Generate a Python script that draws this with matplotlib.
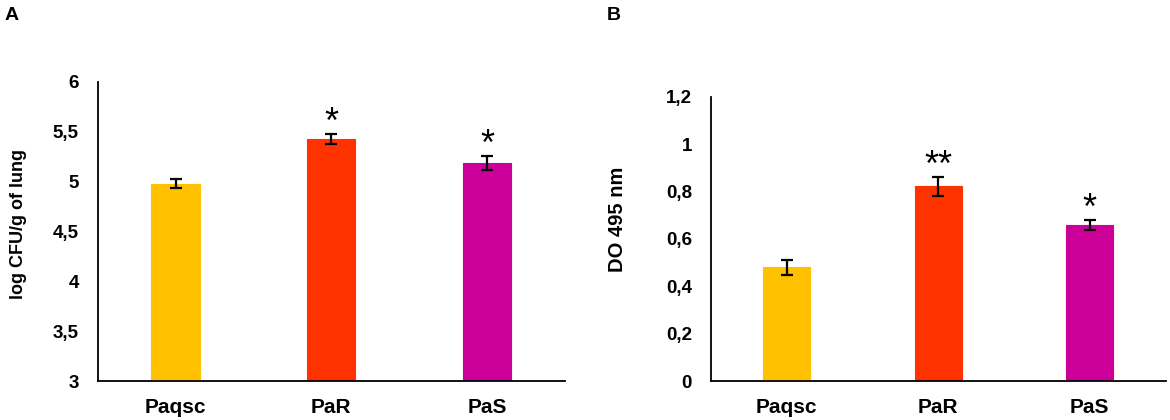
import matplotlib
matplotlib.use("Agg")
import matplotlib.pyplot as plt
from matplotlib.ticker import FuncFormatter

plt.rcParams['font.family'] = ['Liberation Sans', 'DejaVu Sans']
plt.rcParams['font.weight'] = 'bold'

categories = ["Paqsc", "PaR", "PaS"]
colors = ["#FFC000", "#FF3300", "#CC0099"]

cfu_values = [4.98, 5.43, 5.19]
cfu_errors = [0.045, 0.053, 0.072]
cfu_stars = ["", "*", "*"]
cfu_ticks = [3, 3.5, 4, 4.5, 5, 5.5, 6]

do_values = [0.48, 0.822, 0.66]
do_errors = [0.033, 0.041, 0.022]
do_stars = ["", "**", "*"]
do_ticks = [0, 0.2, 0.4, 0.6, 0.8, 1.0, 1.2]

fig = plt.figure(figsize=(11.7, 4.2), dpi=100)
axA = fig.add_axes([97.7/1170, 1-381/420, (565-97.7)/1170, (381-82)/420])
axB = fig.add_axes([710.7/1170, 1-381/420, (1165.7-710.7)/1170, (381-97)/420])

def comma_fmt(v, pos):
    s = ('%g' % round(v, 3))
    return s.replace('.', ',')

def draw(ax, vals, errs, stars, ticks, ylabel, ylabel_size, panel, px):
    x = list(range(len(categories)))
    ax.bar(x, vals, width=0.31, color=colors, edgecolor=colors, linewidth=0.8, zorder=2)
    ax.errorbar(x, vals, yerr=errs, fmt='none', ecolor='black', elinewidth=1.6,
                capsize=4, capthick=1.6, zorder=3)
    ax.set_xlim(-0.5, 2.5)
    ax.set_ylim(ticks[0], ticks[-1])
    ax.set_yticks(ticks)
    ax.yaxis.set_major_formatter(FuncFormatter(comma_fmt))
    ax.set_xticks(x)
    ax.set_xticklabels(categories, fontsize=15, fontweight='bold')
    ax.tick_params(axis='y', length=0, pad=13.5, labelsize=13.5)
    ax.tick_params(axis='x', length=0, pad=12)
    for lab in ax.get_yticklabels():
        lab.set_fontweight('bold')
    for s in ['top', 'right']:
        ax.spines[s].set_visible(False)
    for s in ['left', 'bottom']:
        ax.spines[s].set_linewidth(1.3)
        ax.spines[s].set_color('black')
    ax.set_ylabel(ylabel, fontsize=ylabel_size, fontweight='bold')
    for xi, v, e, st in zip(x, vals, errs, stars):
        if st:
            ax.annotate(st, xy=(xi, v + e), xytext=(0, 0.5), textcoords='offset points',
                        ha='center', va='baseline', fontsize=26, fontweight='normal')
    fig.text(px/1170, 1-15/420, panel, fontsize=14, fontweight='bold', ha='left', va='center')

draw(axA, cfu_values, cfu_errors, cfu_stars, cfu_ticks, "log CFU/g of lung", 13, "A", 5)
draw(axB, do_values, do_errors, do_stars, do_ticks, "DO 495 nm", 14.5, "B", 607)
axA.yaxis.set_label_coords(-0.151, 0.525)
axB.yaxis.set_label_coords(-0.184, 0.57)

fig.savefig("out.png", dpi=100)
